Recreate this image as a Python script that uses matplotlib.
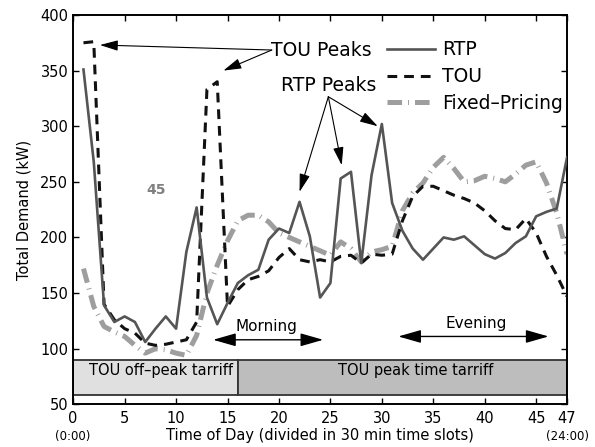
"""
Demand profile for RTP / TOU / fixed pricing over one day (48 half-hour slots)
"""

import numpy as np
import matplotlib
matplotlib.use("Agg")
import matplotlib.pyplot as plt
import matplotlib.transforms as mtransforms
from matplotlib.patches import Rectangle

# --- Data ---
slots = np.arange(1, 49)
rtp = [351, 268, 139, 124, 129, 124, 106, 118, 129, 118,
       187, 227, 146, 122, 141, 159, 166, 171, 198, 208,
       204, 232, 201, 146, 159, 253, 259, 177, 256, 302,
       231, 206, 190, 180, 190, 200, 198, 201, 193, 185,
       181, 186, 195, 201, 219, 223, 226, 272]
tou = [375, 376, 140, 126, 118, 114, 105, 103, 104, 106,
       108, 124, 333, 340, 138, 153, 162, 165, 170, 182,
       190, 180, 178, 180, 178, 183, 184, 177, 185, 184,
       185, 215, 237, 246, 246, 242, 238, 235, 231, 224,
       215, 208, 207, 217, 204, 183, 166, 147]
fixed = [172, 138, 120, 115, 111, 103, 96, 100, 99, 96,
         94, 112, 150, 175, 197, 215, 220, 220, 214, 204,
         200, 196, 192, 188, 184, 196, 190, 178, 187, 189,
         192, 224, 240, 249, 263, 272, 262, 250, 251, 255,
         253, 250, 257, 265, 268, 249, 222, 185]

xtick_pos = [0, 5, 10, 15, 20, 25, 30, 35, 40, 45, 48]
xtick_labels = ["0", "5", "10", "15", "20", "25", "30", "35", "40", "45", "47"]
yticks = [50, 100, 150, 200, 250, 300, 350, 400]

# tariff periods (slot start, slot end, label)
offpeak = (0, 16, "TOU off\u2013peak tarriff")
peak = (16, 48, "TOU peak time tarriff")

# peaks pointed at by the annotations
tou_peak_pts = [(2.6, 373), (14.6, 350)]
rtp_peak_pts = [(22.0, 241), (26.1, 265), (29.6, 300)]

plt.rcParams["lines.scale_dashes"] = False

fig = plt.figure(figsize=(5.95, 4.47), dpi=100)
ax = fig.add_axes([0.123, 0.0955, 0.830, 0.871])

ax.plot(slots, rtp, color="#555555", lw=1.9, label="RTP", zorder=4)
ax.plot(slots, tou, color="#111111", lw=2.2, dashes=(7, 5), label="TOU", zorder=3)
ax.plot(slots, fixed, color="#9e9e9e", lw=3.6, dashes=(10.5, 4.3, 0.7, 4.3),
        label="Fixed\u2013Pricing", zorder=2)

# tariff boxes
for (x0, x1, lbl), fc, tx in [(offpeak, "#e0e0e0", 8.5), (peak, "#bdbdbd", 33.3)]:
    ax.add_patch(Rectangle((x0, 58), x1 - x0, 32, facecolor=fc,
                           edgecolor="#333333", lw=1.3, zorder=1))
    ax.text(tx, 80, lbl, ha="center", va="center", fontsize=10.5, zorder=5)

# Morning / Evening spans
arrow2 = dict(arrowstyle="<|-|>,head_length=0.7,head_width=0.2",
              color="black", lw=1.0, mutation_scale=20, shrinkA=0, shrinkB=0)
ax.annotate("", xy=(13.6, 108), xytext=(24.3, 108), arrowprops=arrow2)
ax.text(18.8, 120, "Morning", ha="center", va="center", fontsize=11)
ax.annotate("", xy=(31.6, 111), xytext=(46.2, 111), arrowprops=arrow2)
ax.text(39.2, 123, "Evening", ha="center", va="center", fontsize=11)

# peak annotations
arrow1 = dict(arrowstyle="-|>,head_length=0.55,head_width=0.16",
              color="black", lw=0.8, mutation_scale=20, shrinkA=0, shrinkB=0)
for pt in tou_peak_pts:
    ax.annotate("", xy=pt, xytext=(19.3, 368.5), arrowprops=arrow1)
ax.text(24.1, 368.5, "TOU Peaks", ha="center", va="center", fontsize=13.5)
for pt in rtp_peak_pts:
    ax.annotate("", xy=pt, xytext=(24.8, 326.5), arrowprops=arrow1)
ax.text(24.85, 337, "RTP Peaks", ha="center", va="center", fontsize=13.5)

ax.text(8.1, 243, "45", ha="center", va="center", fontsize=10,
        color="#808080", fontweight="bold")

ax.set_xlim(0, 48)
ax.set_ylim(50, 400)
ax.set_xticks(xtick_pos)
ax.set_xticklabels(xtick_labels)
ax.set_yticks(yticks)
ax.tick_params(direction="in", top=True, right=True, length=4, width=1,
               labelsize=10.5)
ax.tick_params(axis="x", pad=4.5)
for sp in ax.spines.values():
    sp.set_linewidth(1.4)

ax.set_xlabel("Time of Day (divided in 30 min time slots)", fontsize=10.5, labelpad=2)
ax.set_ylabel("Total Demand (kW)", fontsize=10.5, labelpad=6)

trans = mtransforms.blended_transform_factory(ax.transData, ax.transAxes)
ax.text(0, -0.082, "(0:00)", transform=trans, ha="center", va="center", fontsize=8.5)
ax.text(48, -0.082, "(24:00)", transform=trans, ha="center", va="center", fontsize=8.5)

ax.legend(loc="upper left", bbox_to_anchor=(0.635, 0.935), frameon=False,
          fontsize=13.5, handlelength=2.57, handletextpad=0.36,
          borderpad=0, borderaxespad=0, labelspacing=0.42)

fig.savefig("out.png", dpi=100)
